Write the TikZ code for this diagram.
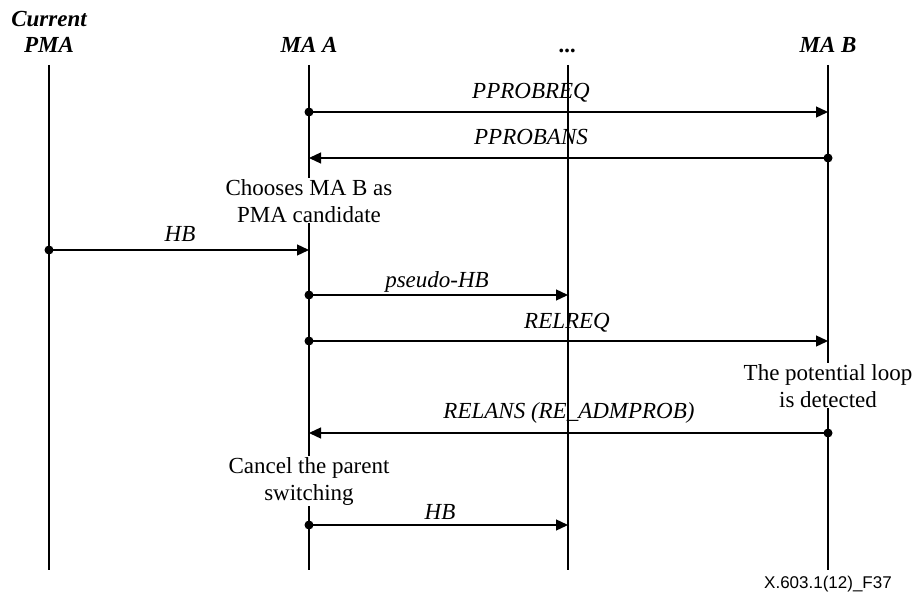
\documentclass[tikz,border=0pt]{standalone}
\usepackage{fontspec}
\setmainfont{Liberation Serif}
\newfontfamily\figsans{Liberation Sans}
\usetikzlibrary{arrows.meta}
\begin{document}
\begin{tikzpicture}[x=1pt,y=-1pt,
  life/.style={line width=1.3pt},
  msg/.style={line width=1.3pt,-{Triangle[length=12pt,width=11pt]}},
  dot/.style={circle,fill=black,inner sep=0pt,minimum size=9pt},
  hdr/.style={font=\fontsize{23}{26}\selectfont\bfseries\itshape,align=center,anchor=base,inner sep=0pt},
  lbl/.style={font=\fontsize{23}{26}\selectfont\itshape,inner sep=0pt,anchor=base},
  note/.style={font=\fontsize{23}{27}\selectfont,align=center,fill=white,inner sep=1pt,anchor=base}]
\useasboundingbox (0,0) rectangle (920,596);
% headers
\node[hdr] (hP) at (49,53) {Current\\PMA};
\node[hdr] (hA) at (309,53) {MA A};
\node[hdr] (hD) at (568,53) {...};
\node[hdr] (hB) at (828,53) {MA B};
% lifelines
\coordinate (P0) at (49,65);  \coordinate (P1) at (49,570);
\coordinate (A0) at (309,65); \coordinate (A1) at (309,570);
\coordinate (D0) at (568,65); \coordinate (D1) at (568,570);
\coordinate (B0) at (828,65); \coordinate (B1) at (828,570);
\draw[life] (P0) -- (P1);
\draw[life] (A0) -- (A1);
\draw[life] (D0) -- (D1);
\draw[life] (B0) -- (B1);
% message points
\coordinate (a1) at (309,112); \coordinate (b1) at (828,112);
\coordinate (b2) at (828,158); \coordinate (a2) at (309,158);
\coordinate (p3) at (49,250);  \coordinate (a3) at (309,250);
\coordinate (a4) at (309,295); \coordinate (d4) at (568,295);
\coordinate (a5) at (309,341); \coordinate (b5) at (828,341);
\coordinate (b6) at (828,433); \coordinate (a6) at (309,433);
\coordinate (a7) at (309,525); \coordinate (d7) at (568,525);
% notes
\node[note] (n1) at (309,222) {Chooses MA B as\\PMA candidate};
\node[note] (n2) at (828,407) {The potential loop\\is detected};
\node[note] (n3) at (309,500) {Cancel the parent\\switching};
% messages
\draw[msg] (a1) -- (b1);
\node[lbl] (l1) at (531,99) {PPROBREQ};
\draw[msg] (b2) -- (a2);
\node[lbl] (l2) at (531,145) {PPROBANS};
\draw[msg] (p3) -- (a3);
\node[lbl] (l3) at (180,241) {HB};
\draw[msg] (a4) -- (d4);
\node[lbl] (l4) at (437,287) {pseudo-HB};
\draw[msg] (a5) -- (b5);
\node[lbl] (l5) at (567,328) {RELREQ};
\draw[msg] (b6) -- (a6);
\node[lbl] (l6) at (569,418) {RELANS (RE\_ADMPROB)};
\draw[msg] (a7) -- (d7);
\node[lbl] (l7) at (440,519) {HB};
% start dots
\node[dot] at (a1) {};
\node[dot] at (b2) {};
\node[dot] at (p3) {};
\node[dot] at (a4) {};
\node[dot] at (a5) {};
\node[dot] at (b6) {};
\node[dot] at (a7) {};
\node[font=\figsans\fontsize{17}{19}\selectfont,anchor=base,inner sep=0pt] (fig) at (828,588) {X.603.1(12)\_F37};
\end{tikzpicture}
\end{document}
